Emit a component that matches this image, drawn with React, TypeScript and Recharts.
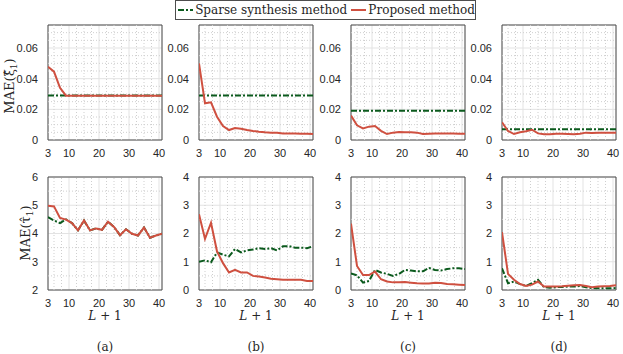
import React from 'react';
import {
  LineChart,
  Line,
  XAxis,
  YAxis,
  CartesianGrid,
  ReferenceLine,
  ReferenceArea,
} from 'recharts';

// L + 1 values
const XS = [3, 5, 7, 9, 11, 13, 15, 17, 19, 21, 23, 25, 27, 29, 31, 33, 35, 37, 39, 41];

// MAE(xi) - top row
const xiSparseA = [0.029, 0.029, 0.029, 0.029, 0.029, 0.029, 0.029, 0.029, 0.029, 0.029, 0.029, 0.029, 0.029, 0.029, 0.029, 0.029, 0.029, 0.029, 0.029, 0.029];
const xiPropA = [0.0478, 0.0446, 0.034, 0.0289, 0.0288, 0.0288, 0.0288, 0.0288, 0.0288, 0.0288, 0.0288, 0.0288, 0.0288, 0.0288, 0.0288, 0.0288, 0.0288, 0.0288, 0.0288, 0.0288];
const xiSparseB = [0.029, 0.029, 0.029, 0.029, 0.029, 0.029, 0.029, 0.029, 0.029, 0.029, 0.029, 0.029, 0.029, 0.029, 0.029, 0.029, 0.029, 0.029, 0.029, 0.029];
const xiPropB = [0.05, 0.0239, 0.0246, 0.0152, 0.0091, 0.0065, 0.0078, 0.0074, 0.0065, 0.0059, 0.0054, 0.005, 0.0048, 0.0048, 0.0043, 0.0043, 0.0042, 0.0041, 0.004, 0.0039];
const xiSparseC = [0.019, 0.019, 0.019, 0.019, 0.019, 0.019, 0.019, 0.019, 0.019, 0.019, 0.019, 0.019, 0.019, 0.019, 0.019, 0.019, 0.019, 0.019, 0.019, 0.019];
const xiPropC = [0.0159, 0.0096, 0.0076, 0.0087, 0.0091, 0.006, 0.0039, 0.0048, 0.0052, 0.005, 0.005, 0.0048, 0.0039, 0.0041, 0.0043, 0.0043, 0.0043, 0.0042, 0.0041, 0.004];
const xiSparseD = [0.007, 0.007, 0.007, 0.007, 0.007, 0.007, 0.007, 0.007, 0.007, 0.007, 0.007, 0.007, 0.007, 0.007, 0.007, 0.007, 0.007, 0.007, 0.007, 0.007];
const xiPropD = [0.0115, 0.0059, 0.0039, 0.005, 0.0057, 0.0067, 0.0043, 0.0037, 0.0037, 0.0041, 0.0041, 0.0039, 0.0037, 0.0041, 0.0048, 0.0046, 0.0048, 0.0048, 0.0048, 0.0048];

// MAE(tau) - bottom row
const tauSparseA = [4.58, 4.46, 4.37, 4.5, 4.37, 4.11, 4.46, 4.11, 4.18, 4.13, 4.42, 4.23, 3.94, 4.15, 3.99, 3.93, 4.21, 3.85, 3.93, 3.99];
const tauPropA = [4.98, 4.96, 4.55, 4.49, 4.37, 4.11, 4.46, 4.11, 4.18, 4.13, 4.42, 4.23, 3.94, 4.15, 3.99, 3.93, 4.21, 3.85, 3.93, 3.99];
const tauSparseB = [1.0, 1.05, 0.98, 1.33, 1.25, 1.19, 1.45, 1.33, 1.4, 1.43, 1.48, 1.45, 1.48, 1.4, 1.55, 1.55, 1.5, 1.5, 1.48, 1.55];
const tauPropB = [2.68, 1.81, 2.38, 1.37, 0.95, 0.62, 0.71, 0.62, 0.62, 0.5, 0.48, 0.44, 0.4, 0.38, 0.36, 0.36, 0.36, 0.36, 0.32, 0.32];
const tauSparseC = [0.59, 0.52, 0.26, 0.32, 0.71, 0.62, 0.57, 0.5, 0.57, 0.71, 0.69, 0.66, 0.66, 0.78, 0.71, 0.69, 0.74, 0.77, 0.77, 0.74];
const tauPropC = [2.35, 0.85, 0.53, 0.53, 0.65, 0.38, 0.3, 0.27, 0.27, 0.28, 0.26, 0.24, 0.23, 0.23, 0.26, 0.25, 0.21, 0.2, 0.19, 0.18];
const tauSparseD = [0.77, 0.24, 0.3, 0.21, 0.14, 0.24, 0.36, 0.1, 0.08, 0.1, 0.11, 0.12, 0.12, 0.14, 0.1, 0.07, 0.06, 0.06, 0.06, 0.07];
const tauPropD = [2.05, 0.57, 0.36, 0.21, 0.14, 0.19, 0.3, 0.12, 0.12, 0.12, 0.13, 0.15, 0.17, 0.18, 0.14, 0.1, 0.12, 0.13, 0.14, 0.17];

// axes
const X_TICKS = [3, 10, 20, 30, 40];
const X_MINOR = [5, 7.5, 12.5, 15, 17.5, 22.5, 25, 27.5, 32.5, 35, 37.5];
const XI_TICKS = [0, 0.02, 0.04, 0.06];
const XI_MINOR = [0.005, 0.01, 0.015, 0.025, 0.03, 0.035, 0.045, 0.05, 0.055, 0.065, 0.07];
const TAU_A_TICKS = [2, 3, 4, 5, 6];
const TAU_A_MINOR = [2.5, 3.5, 4.5, 5.5];
const TAU_TICKS = [0, 1, 2, 3, 4];
const TAU_MINOR = [0.5, 1.5, 2.5, 3.5];
const SUB_LABELS = ['(a)', '(b)', '(c)', '(d)'];

const GREEN = '#0b5a1d';
const RED = '#cf5040';
const TICK_FONT = '"Liberation Sans", Arial, sans-serif';
const SERIF = '"DejaVu Serif", serif';

const PLOT_LEFTS = [48, 199, 351, 502];
const PLOT_W = 114;
const Y_AXIS_W = 45;

function toRows(sparse: number[], proposed: number[]) {
  return XS.map((x, i) => ({ x, sparse: sparse[i], proposed: proposed[i] }));
}

interface PanelProps {
  left: number;
  top: number;
  plotH: number;
  domain: [number, number];
  yTicks: number[];
  yMinor: number[];
  sparse: number[];
  proposed: number[];
}

function Panel({ left, top, plotH, domain, yTicks, yMinor, sparse, proposed }: PanelProps) {
  const data = toRows(sparse, proposed);
  const tickStyle = { fill: '#262626', fontSize: 11, fontFamily: TICK_FONT };
  return (
    <div style={{ position: 'absolute', left: left - Y_AXIS_W, top: top - 5 }}>
      <LineChart
        width={Y_AXIS_W + PLOT_W + 8}
        height={5 + plotH + 25}
        data={data}
        margin={{ top: 5, right: 8, left: 0, bottom: 0 }}
      >
        <CartesianGrid stroke="#e3e3e3" />
        {X_MINOR.map((v) => (
          <ReferenceLine key={'x' + v} x={v} stroke="#cfcfcf" strokeDasharray="1 2" />
        ))}
        {yMinor.map((v) => (
          <ReferenceLine key={'y' + v} y={v} stroke="#cfcfcf" strokeDasharray="1 2" />
        ))}
        <XAxis
          type="number"
          dataKey="x"
          domain={[3, 41]}
          ticks={X_TICKS}
          interval={0}
          tickLine={false}
          axisLine={false}
          tick={tickStyle}
          tickMargin={3}
          height={25}
          allowDataOverflow
        />
        <YAxis
          type="number"
          domain={domain}
          ticks={yTicks}
          interval={0}
          tickLine={false}
          axisLine={false}
          tick={tickStyle}
          tickMargin={4}
          width={Y_AXIS_W}
          allowDataOverflow
        />
        <Line
          type="linear"
          dataKey="sparse"
          stroke={GREEN}
          strokeWidth={2}
          strokeDasharray="6 2 2 2"
          dot={false}
          isAnimationActive={false}
        />
        <Line
          type="linear"
          dataKey="proposed"
          stroke={RED}
          strokeWidth={2}
          dot={false}
          isAnimationActive={false}
        />
        <ReferenceArea x1={3} x2={41} y1={domain[0]} y2={domain[1]} fill="none" stroke="#4d4d4d" strokeWidth={1} />
      </LineChart>
    </div>
  );
}

function RotLabel({ x, y, sym }: { x: number; y: number; sym: string }) {
  return (
    <div
      style={{
        position: 'absolute',
        left: x,
        top: y,
        transform: 'translate(-50%, -50%) rotate(-90deg)',
        whiteSpace: 'nowrap',
        fontFamily: SERIF,
        fontSize: 13,
        lineHeight: 1,
        color: '#262626',
      }}
    >
      MAE({sym}
      <sub style={{ fontSize: 9, lineHeight: 1 }}>1</sub>)
    </div>
  );
}

export default function App() {
  const topRows: [number[], number[]][] = [
    [xiSparseA, xiPropA],
    [xiSparseB, xiPropB],
    [xiSparseC, xiPropC],
    [xiSparseD, xiPropD],
  ];
  const bottomRows: [number[], number[]][] = [
    [tauSparseA, tauPropA],
    [tauSparseB, tauPropB],
    [tauSparseC, tauPropC],
    [tauSparseD, tauPropD],
  ];

  return (
    <div style={{ position: 'absolute', left: 0, top: 0, width: 623, height: 354, background: '#fff' }}>
      {/* legend */}
      <div
        style={{
          position: 'absolute',
          left: 175,
          top: 0,
          width: 301,
          height: 20,
          border: '1px solid #4d4d4d',
          boxSizing: 'border-box',
          display: 'flex',
          alignItems: 'center',
          fontFamily: SERIF,
          fontSize: 12,
          lineHeight: 1,
          color: '#262626',
          whiteSpace: 'nowrap',
        }}
      >
        <svg width={24} height={10} style={{ marginLeft: 2 }}>
          <line x1={0} y1={5} x2={24} y2={5} stroke={GREEN} strokeWidth={2} strokeDasharray="6 2 2 2" />
        </svg>
        <span style={{ marginLeft: 2 }}>Sparse synthesis method</span>
        <svg width={24} height={10} style={{ marginLeft: 4 }}>
          <line x1={0} y1={5} x2={24} y2={5} stroke={RED} strokeWidth={2} />
        </svg>
        <span style={{ marginLeft: 2 }}>Proposed method</span>
      </div>

      {topRows.map(([s, p], i) => (
        <Panel
          key={'t' + i}
          left={PLOT_LEFTS[i]}
          top={25}
          plotH={115}
          domain={[0, 0.075]}
          yTicks={XI_TICKS}
          yMinor={XI_MINOR}
          sparse={s}
          proposed={p}
        />
      ))}
      {bottomRows.map(([s, p], i) => (
        <Panel
          key={'b' + i}
          left={PLOT_LEFTS[i]}
          top={177}
          plotH={113}
          domain={i === 0 ? [2, 6] : [0, 4]}
          yTicks={i === 0 ? TAU_A_TICKS : TAU_TICKS}
          yMinor={i === 0 ? TAU_A_MINOR : TAU_MINOR}
          sparse={s}
          proposed={p}
        />
      ))}

      <RotLabel x={11} y={86} sym={'\u03BE\u0302'} />
      <RotLabel x={27} y={233} sym={'\u03C4\u0302'} />

      {PLOT_LEFTS.map((l, i) => (
        <React.Fragment key={'lab' + i}>
          <div
            style={{
              position: 'absolute',
              left: l + PLOT_W / 2,
              top: 316,
              transform: 'translate(-50%, -50%)',
              fontFamily: SERIF,
              fontSize: 12,
              lineHeight: 1,
              color: '#262626',
              whiteSpace: 'nowrap',
            }}
          >
            <i>L</i> + 1
          </div>
          <div
            style={{
              position: 'absolute',
              left: l + PLOT_W / 2,
              top: 347,
              transform: 'translate(-50%, -50%)',
              fontFamily: SERIF,
              fontSize: 12,
              lineHeight: 1,
              color: '#262626',
              whiteSpace: 'nowrap',
            }}
          >
            {SUB_LABELS[i]}
          </div>
        </React.Fragment>
      ))}
    </div>
  );
}
